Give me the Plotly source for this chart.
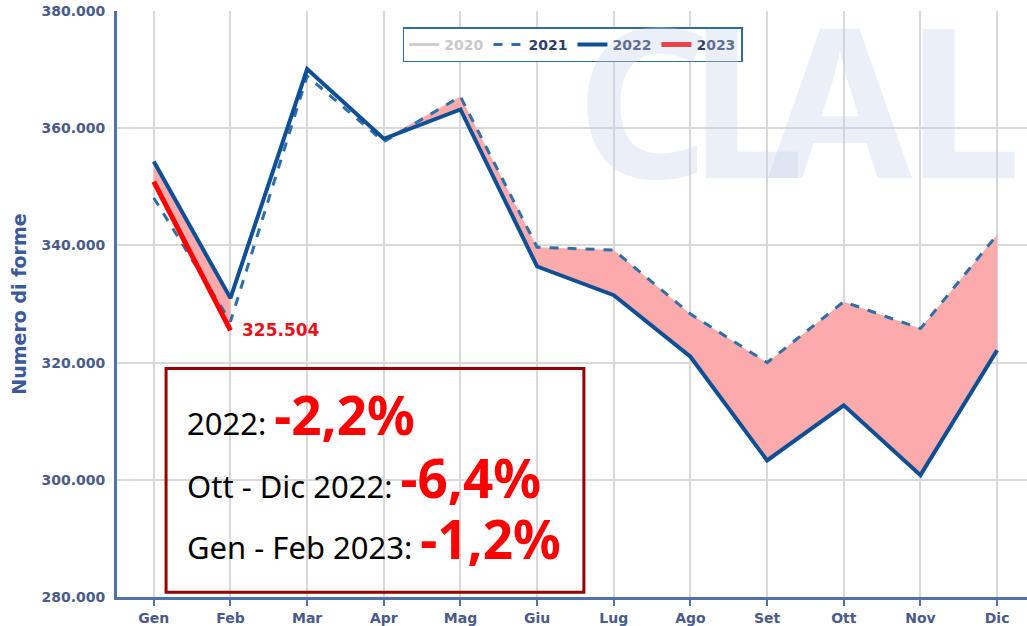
import plotly.graph_objects as go

# dati (numero di forme)
months = ['Gen', 'Feb', 'Mar', 'Apr', 'Mag', 'Giu', 'Lug', 'Ago', 'Set', 'Ott', 'Nov', 'Dic']
y2021 = [348100, 327000, 368900, 357700, 365400, 339700, 339200, 328300, 320000, 330400, 325800, 341800]
y2022 = [354300, 331000, 370100, 358200, 363200, 336400, 331500, 321000, 303300, 312700, 300800, 322100]
y2023 = [350900, 325504]
last_label = '325.504'

box_lines = [
    ('2022: ', '-2,2%'),
    ('Ott - Dic 2022: ', '-6,4%'),
    ('Gen - Feb 2023: ', '-1,2%'),
]

BLUE22 = '#0f4f96'
BLUE21 = '#2f6ea8'
RED = '#ff0000'
PINK = '#fbabab'
AXIS = '#4f73a8'
LABEL = '#4a5a8a'
SANS = 'Noto Sans, Open Sans, sans-serif'

fig = go.Figure()

# area rosa: 2023 sotto 2022 (Gen-Feb)
fig.add_trace(go.Scatter(x=months[:2], y=y2023, mode='lines', line=dict(width=0),
                         showlegend=False, hoverinfo='skip'))
fig.add_trace(go.Scatter(x=months[:2], y=y2022[:2], mode='lines', line=dict(width=0),
                         fill='tonexty', fillcolor=PINK, showlegend=False, hoverinfo='skip'))
# area rosa: 2022 sotto 2021 (Mar-Dic)
top = [max(a, b) for a, b in zip(y2021[2:], y2022[2:])]
fig.add_trace(go.Scatter(x=months[2:], y=y2022[2:], mode='lines', line=dict(width=0),
                         showlegend=False, hoverinfo='skip'))
fig.add_trace(go.Scatter(x=months[2:], y=top, mode='lines', line=dict(width=0),
                         fill='tonexty', fillcolor=PINK, showlegend=False, hoverinfo='skip'))

fig.add_trace(go.Scatter(x=[None], y=[None], mode='lines',
                         name="<span style='color:#c8c8c8'>2020</span>",
                         line=dict(color='#cfcfcf', width=3)))
fig.add_trace(go.Scatter(x=months, y=y2021, mode='lines', name='2021',
                         line=dict(color=BLUE21, width=3, dash='dash')))
fig.add_trace(go.Scatter(x=months, y=y2022, mode='lines', name='2022',
                         line=dict(color=BLUE22, width=4)))
fig.add_trace(go.Scatter(x=months[:2], y=y2023, mode='lines', name='2023',
                         line=dict(color=RED, width=5)))

# logo in filigrana, una lettera alla volta
annotations = []
for ch, xc in zip('CLAL', [6.38, 7.72, 8.95, 10.55]):
    annotations.append(dict(
        x=xc, y=365300, xref='x', yref='y', text='<b>' + ch + '</b>', showarrow=False,
        font=dict(family=SANS, size=208, color='rgba(195,206,235,0.33)'),
        xanchor='center', yanchor='middle'))

annotations.append(dict(
    x=1, y=y2023[-1], xref='x', yref='y', text='<b>' + last_label + '</b>',
    showarrow=False, xanchor='left', yanchor='middle', xshift=10, yshift=0,
    font=dict(family='DejaVu Sans', size=17, color='#e3141c')))

ys = [311200, 300400, 289900]
for (label, pct), yv in zip(box_lines, ys):
    annotations.append(dict(
        x=0.41, y=yv, xref='x', yref='y', showarrow=False, xanchor='left', yanchor='middle',
        text=label + "<span style='color:%s;font-size:53px'><b>%s</b></span>" % (RED, pct),
        font=dict(family=SANS, size=31, color='#000000')))

fig.update_layout(
    width=1027, height=626,
    margin=dict(l=117, r=0, t=11, b=29),
    paper_bgcolor='white', plot_bgcolor='white',
    separators=',.',
    showlegend=True,
    legend=dict(orientation='h', x=0.314, y=0.972, xanchor='left', yanchor='top',
                bgcolor='white', bordercolor='#2e6e9e', borderwidth=1.5,
                font=dict(family='DejaVu Sans', size=14, color='#2f3f6b', weight='bold'),
                itemwidth=30, traceorder='normal'),
    annotations=annotations,
    shapes=[dict(type='rect', xref='x', yref='y', x0=0.16, x1=5.61, y0=280800, y1=319000,
                 line=dict(color='#990000', width=3), layer='above')],
)

fig.update_xaxes(
    type='category', range=[-0.48, 11.39], automargin=False,
    showgrid=True, gridcolor='#d9d9d9', gridwidth=1.5,
    showline=True, linecolor=AXIS, linewidth=3,
    ticks='outside', ticklen=6, tickcolor=AXIS, tickwidth=1.5,
    tickfont=dict(family='DejaVu Sans', size=14, color=LABEL, weight='bold'),
)
fig.update_yaxes(
    range=[280000, 380000], dtick=20000, tickformat=',d', automargin=False,
    showgrid=True, gridcolor='#d9d9d9', gridwidth=1.5,
    showline=True, linecolor=AXIS, linewidth=3, ticks='', ticklabelstandoff=6,
    tickfont=dict(family='DejaVu Sans', size=14, color=LABEL, weight='bold'),
    title=dict(text='<b>Numero di forme</b>', standoff=10,
               font=dict(family='DejaVu Sans', size=19, color='#3d5a98')),
    zeroline=False,
)

# tolgo il margine di default della pagina, cosi' la figura parte da 0,0
fig.write_html('out.html', config={'displayModeBar': False},
               post_script="document.body.style.margin='0';")
